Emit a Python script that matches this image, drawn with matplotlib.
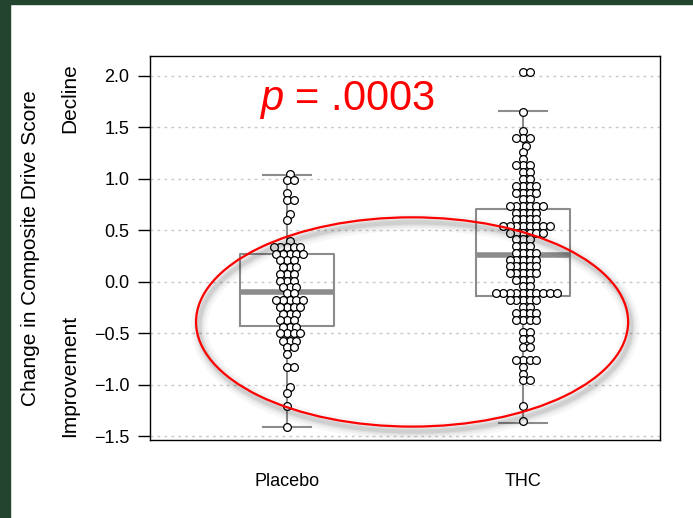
import numpy as np
import matplotlib
matplotlib.use("Agg")
import matplotlib.pyplot as plt
from matplotlib.patches import Ellipse, Rectangle
import matplotlib.transforms as mtransforms

plt.rcParams['font.family'] = ['Liberation Sans', 'DejaVu Sans']
plt.rcParams['mathtext.fontset'] = 'custom'
plt.rcParams['mathtext.it'] = 'Liberation Sans:italic'
plt.rcParams['mathtext.rm'] = 'Liberation Sans'

groups = ['Placebo', 'THC']

# score levels, with how many subjects sit at each
placebo_levels = [1.05, 0.99, 0.86, 0.79, 0.66, 0.60, 0.40, 0.34, 0.27, 0.21, 0.14,
                  0.08, 0.01, -0.05, -0.11, -0.18, -0.24, -0.31, -0.37, -0.44,
                  -0.50, -0.57, -0.63, -0.70, -0.83, -1.02, -1.08, -1.21, -1.41]
placebo_counts = [1, 2, 1, 2, 1, 1, 1, 5, 5, 3, 3,
                  3, 3, 3, 2, 5, 4, 3, 3, 3,
                  4, 3, 2, 1, 2, 1, 1, 1, 1]
thc_levels = [2.03, 1.645, 1.46, 1.39, 1.32, 1.26, 1.195, 1.13, 1.06, 0.995, 0.93,
              0.865, 0.80, 0.735, 0.67, 0.605, 0.54, 0.475, 0.41, 0.345, 0.28, 0.215,
              0.15, 0.085, 0.02, -0.045, -0.11, -0.175, -0.24, -0.305, -0.37, -0.49,
              -0.56, -0.63, -0.76, -0.825, -0.89, -0.955, -1.21, -1.35]
thc_counts = [2, 1, 1, 3, 1, 1, 1, 3, 2, 2, 4,
              4, 2, 6, 4, 4, 8, 6, 3, 3, 4, 5,
              5, 5, 3, 2, 10, 5, 2, 4, 4, 2,
              2, 2, 4, 1, 1, 2, 1, 1]

# box plot summaries
box_q1 = [-0.43, -0.14]
box_med = [-0.10, 0.26]
box_q3 = [0.27, 0.71]
whisk_lo = [-1.41, -1.37]
whisk_hi = [1.04, 1.66]

yticks = [-1.5, -1.0, -0.5, 0.0, 0.5, 1.0, 1.5, 2.0]
pval_text = r'$p$ = .0003'


def swarm_offsets(yvals, xscale, yscale, d):
    # place each point as close to the centre as it can go without overlap
    order = np.argsort(yvals, kind='stable')
    px, py = [], []
    out = np.zeros(len(yvals))
    for i in order:
        y = yvals[i] * yscale
        cands = [0.0]
        for x0, y0 in zip(px, py):
            dy = y - y0
            if abs(dy) < d:
                dx = np.sqrt(d * d - dy * dy)
                cands += [x0 + dx, x0 - dx]
        cands.sort(key=abs)
        best = cands[0]
        for c in cands:
            if all((c - x0) ** 2 + (y - y0) ** 2 >= d * d - 1e-6 for x0, y0 in zip(px, py)):
                best = c
                break
        px.append(best)
        py.append(y)
        out[i] = best / xscale
    return out


fig = plt.figure(figsize=(6.93, 5.18), dpi=100)
ax = fig.add_axes([150 / 693, 1 - 440 / 518, 510 / 693, 384 / 518])
ax.set_xlim(0.42, 2.58)
ax.set_ylim(-1.535, 2.19)

for y in yticks:
    ax.axhline(y, color='#c8c8c8', lw=1.0, ls=(0, (2, 3)), zorder=0)

stats = []
for i, g in enumerate(groups):
    stats.append(dict(med=box_med[i], q1=box_q1[i], q3=box_q3[i],
                      whislo=whisk_lo[i], whishi=whisk_hi[i], fliers=[], label=g))
gray = '#8c8c8c'
ax.bxp(stats, positions=[1, 2], widths=0.4, capwidths=0.2, showfliers=False,
       boxprops=dict(color=gray, lw=1.5),
       whiskerprops=dict(color=gray, lw=1.5, ls='-'),
       capprops=dict(color=gray, lw=1.5),
       medianprops=dict(color=gray, lw=4.0, solid_capstyle='butt'),
       zorder=1)

p0 = ax.transData.transform([0, 0])
p1 = ax.transData.transform([1, 1])
xs, ys = p1[0] - p0[0], p1[1] - p0[1]
spacing = 6.7
for i, (lev, cnt) in enumerate([(placebo_levels, placebo_counts), (thc_levels, thc_counts)]):
    vals = np.repeat(lev, cnt)
    xo = swarm_offsets(vals, xs, ys, spacing)
    ax.plot(i + 1 + xo, vals, 'o', ms=5.6, mfc='white', mec='black',
            mew=0.9, ls='none', zorder=3)

# drop shadow for the red ellipse
ell_c = (1.53, -0.39)
ell_w, ell_h = 1.83, 2.03
shadow = mtransforms.offset_copy(ax.transData, fig=fig, x=3, y=-5, units='dots')
for lw, a in [(12, 0.03), (8, 0.045), (5, 0.055), (3, 0.07)]:
    ax.add_patch(Ellipse(ell_c, ell_w, ell_h, fill=False, ec='black', lw=lw, alpha=a,
                         transform=shadow, zorder=4))
ax.add_patch(Ellipse(ell_c, ell_w, ell_h, fill=False, ec='#ff0000', lw=1.6, zorder=5))

ax.text(1.255, 1.76, pval_text, color='#ff0000', fontsize=30, ha='center', va='center')

ax.set_yticks(yticks)
ax.set_yticklabels([f'{v:.1f}'.replace('-', '\u2212') for v in yticks])
ax.set_xticks([1, 2])
ax.set_xticklabels(groups)
ax.tick_params(axis='y', length=9, width=1, pad=6, labelsize=13)
ax.tick_params(axis='x', length=0, pad=24, labelsize=13)
for s in ax.spines.values():
    s.set_linewidth(1.0)
    s.set_color('black')

fig.text(31 / 693, 1 - 248 / 518, 'Change in Composite Drive Score', rotation=90,
         ha='center', va='center', fontsize=15)
fig.text(70 / 693, 1 - 98 / 518, 'Decline', rotation=90, ha='center', va='center', fontsize=15)
fig.text(70 / 693, 1 - 376 / 518, 'Improvement', rotation=90, ha='center', va='center', fontsize=15)

# dark green slide border
fig.patches.append(Rectangle((0, 0), 10 / 693, 1, transform=fig.transFigure,
                             color='#23452f', zorder=-1))
fig.patches.append(Rectangle((0, 1 - 4 / 518), 1, 4 / 518, transform=fig.transFigure,
                             color='#23452f', zorder=-1))

fig.savefig('out.png', dpi=100)
